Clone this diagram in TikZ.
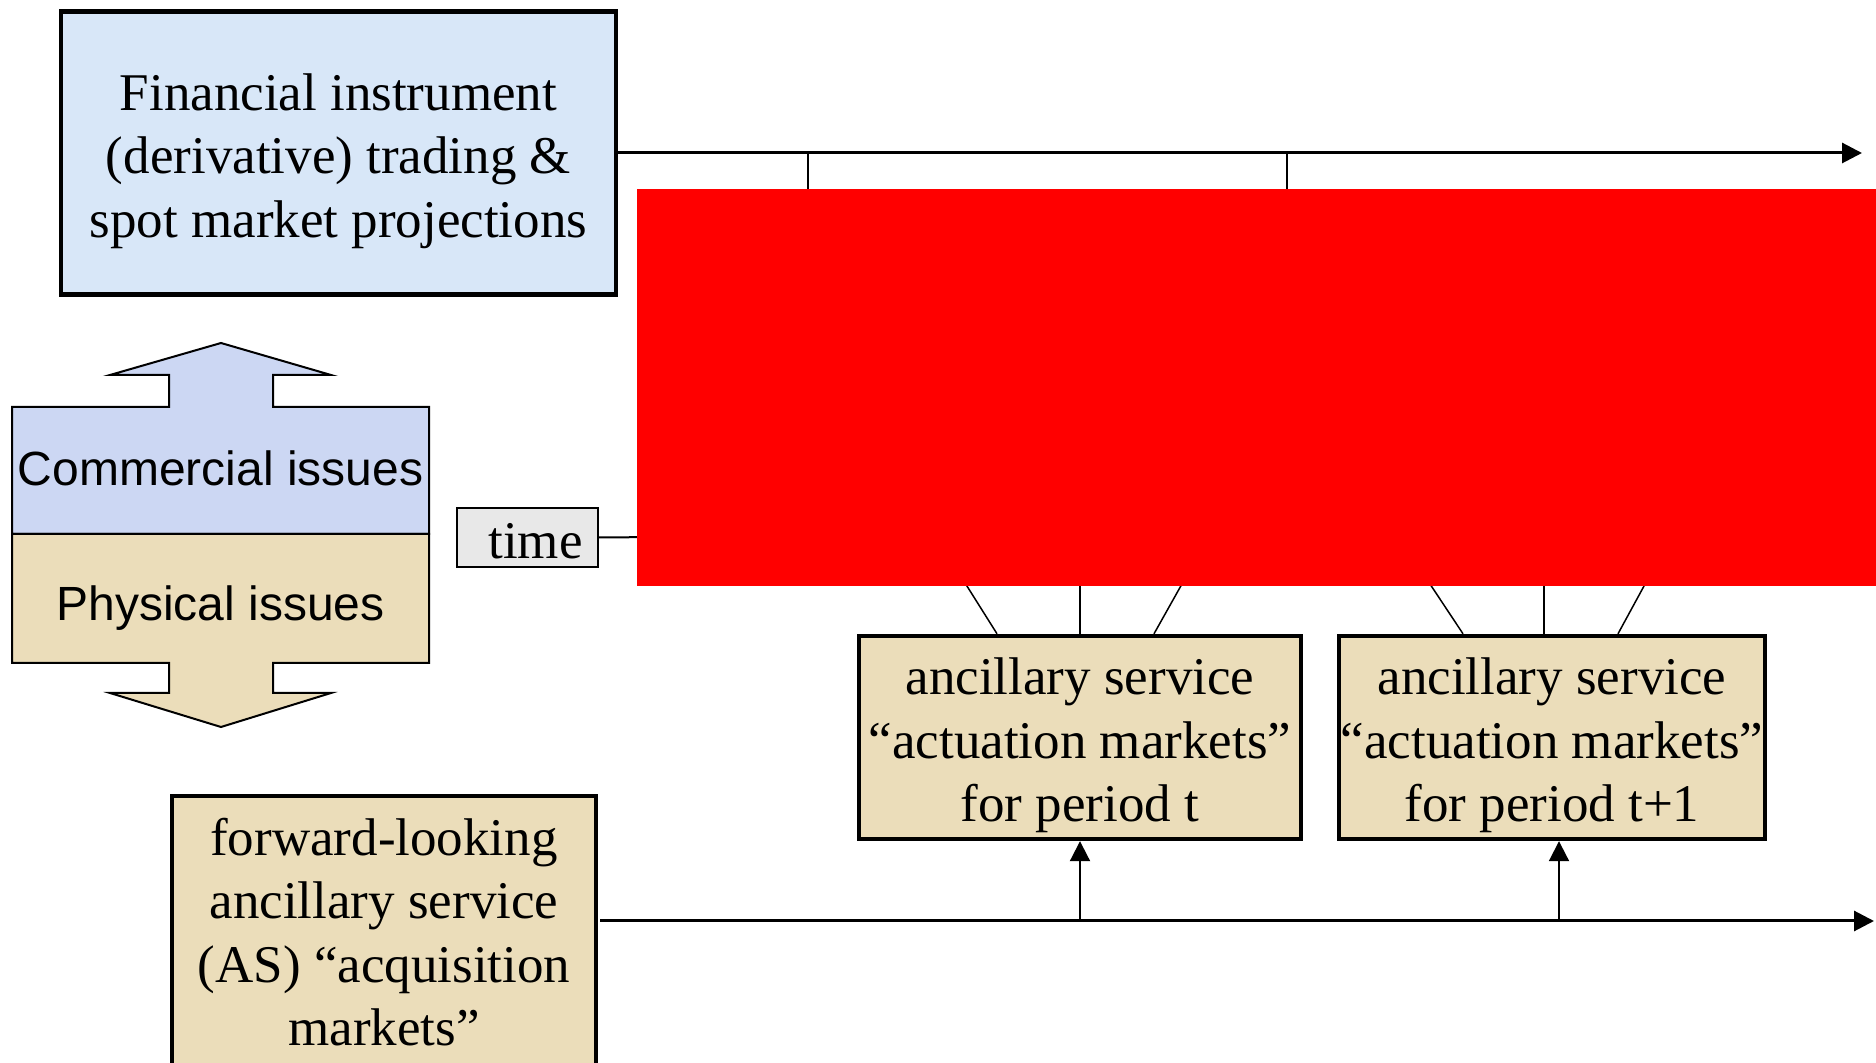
\documentclass[tikz,border=0pt]{standalone}
\usepackage{fontspec}
\setmainfont{Liberation Serif}
\setsansfont{Liberation Sans}
\usepackage{tikz}
\usetikzlibrary{arrows.meta}

\definecolor{skyfill}{HTML}{D8E7F8}
\definecolor{lilacfill}{HTML}{CCD7F3}
\definecolor{sandfill}{HTML}{EBDDBA}
\definecolor{timefill}{HTML}{E8E8E8}
\newcommand{\toppad}{\rule{0pt}{26.5pt}}

\begin{document}
\begin{tikzpicture}[x=0.5pt, y=-0.5pt,
    serifbox/.style={draw, line width=2.2pt, align=center, inner sep=0pt,
        font=\fontsize{26.5}{31.8}\selectfont},
    issuetext/.style={font=\sffamily\fontsize{24}{28}\selectfont},
    axisline/.style={line width=1.5pt, -{Triangle[length=10pt, width=10pt]}},
    uparrow/.style={line width=1pt, -{Triangle[length=10pt, width=10pt]}},
    feeder/.style={line width=0.75pt}]
            \useasboundingbox (0,0) rectangle (1876,1063);
            \clip (0,0) rectangle (1876,1063);

            % Shapes
            \draw[fill=lilacfill, line width=1pt] (12,534) -- (12,407) -- (169,407) -- (169,375) -- (110,375)
                -- (221,343) -- (331,375) -- (273,375) -- (273,407) -- (429,407) -- (429,534) -- cycle;
            \draw[fill=sandfill, line width=1pt] (12,534) -- (12,663) -- (169,663) -- (169,693) -- (110,693)
                -- (221,727) -- (331,693) -- (273,693) -- (273,663) -- (429,663) -- (429,534) -- cycle;

            % Nodes
            \node[serifbox, fill=skyfill, minimum width=277.5pt, minimum height=141.5pt] (fin) at (338.5,153)
                {\toppad Financial instrument\\(derivative) trading \&\\spot market projections};
            \node[issuetext] (comm) at (220.5,468) {Commercial issues};
            \node[issuetext] (phys) at (220.5,608) {Physical issues};
            \node[serifbox, line width=1pt, fill=timefill, minimum width=70.5pt, minimum height=29.5pt] (time)
                at (527.5,537.5) {\hspace{8pt}\rule{0pt}{21pt}time};
            \node[serifbox, fill=sandfill, minimum width=221pt, minimum height=101.5pt] (ast) at (1080,737.5)
                {\toppad ancillary service\\``actuation markets''\\for period t};
            \node[serifbox, fill=sandfill, minimum width=213pt, minimum height=101.5pt] (asnext) at (1552,737.5)
                {\toppad ancillary service\\``actuation markets''\\for period t+1};
            \node[serifbox, fill=sandfill, minimum width=212pt, minimum height=136pt] (acq) at (384,932)
                {forward-looking\\ancillary service\\(AS) ``acquisition\\markets''};

            \coordinate (topend) at (1862,153);
            \coordinate (botstart) at (600,921);
            \coordinate (botend) at (1874,921);

            % Lines
            \draw[axisline] (fin.east) -- (topend);
            \draw[line width=1pt] (808,153) -- (808,210);
            \draw[line width=1pt] (1287,153) -- (1287,210);
            \draw[line width=1pt] (time.east) -- (660,537);
            \draw[axisline] (botstart) -- (botend);
            \draw[uparrow] (ast.south |- botstart) -- (ast.south);
            \draw[uparrow] ([xshift=3.5pt]asnext.south |- botstart) -- ([xshift=3.5pt]asnext.south);

            \draw[feeder] (960,575) -- ([xshift=-41.5pt]ast.north);
            \draw[feeder] (1080,575) -- (ast.north);
            \draw[feeder] (1187,575) -- ([xshift=37pt]ast.north);
            \draw[feeder] (1424,575) -- ([xshift=-44.5pt]asnext.north);
            \draw[feeder] (1544,575) -- ([xshift=-4pt]asnext.north);
            \draw[feeder] (1650,575) -- ([xshift=33pt]asnext.north);

            % Cover
            \fill[red] (637,189) rectangle (1876,586);
        \end{tikzpicture}
\end{document}
